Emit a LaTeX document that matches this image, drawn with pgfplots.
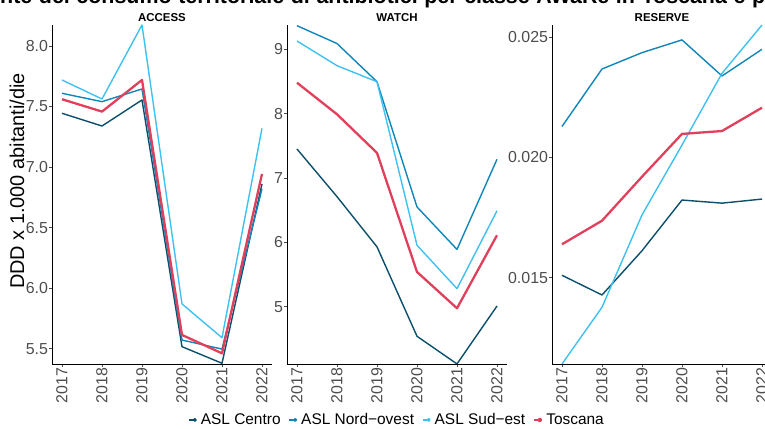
\documentclass[border=0pt]{standalone}
\usepackage{fontspec}
\setmainfont{Liberation Sans}
\usepackage{pgfplots}
\usepackage{pgfplotstable}
\pgfplotsset{compat=1.18}
\definecolor{cCentro}{HTML}{0B4F6C}
\definecolor{cNord}{HTML}{0E86B8}
\definecolor{cSud}{HTML}{3FC1F0}
\definecolor{cTosc}{HTML}{E0405C}
\definecolor{tickgrey}{HTML}{4D4D4D}

\pgfplotstableread{
year centro nord sud tosc
2017 7.444 7.609 7.719 7.560
2018 7.339 7.540 7.562 7.458
2019 7.554 7.645 8.173 7.719
2020 5.517 5.572 5.870 5.614
2021 5.380 5.497 5.591 5.462
2022 6.860 6.820 7.320 6.943
}\access
\pgfplotstableread{
year centro nord sud tosc
2017 7.45 9.367 9.129 8.481
2018 6.71 9.09 8.746 7.99
2019 5.93 8.496 8.496 7.39
2020 4.54 6.55 5.955 5.54
2021 4.11 5.89 5.28 4.975
2022 5.01 7.29 6.49 6.11
}\watch
\pgfplotstableread{
year centro nord sud tosc
2017 0.01510 0.02129 0.01141 0.01639
2018 0.01428 0.02368 0.01377 0.01737
2019 0.01612 0.02436 0.01761 0.01920
2020 0.01823 0.02489 0.02052 0.02098
2021 0.01810 0.02339 0.02350 0.02110
2022 0.01827 0.02450 0.02551 0.02207
}\reserve

\pgfplotsset{
  panel/.style={
    scale only axis, width=220bp, height=339bp,
    anchor=south west,
    axis x line*=bottom, axis y line*=left,
    axis line style={-, black, line width=0.8bp},
    xmin=2016.75, xmax=2022.25,
    xtick={2017,2018,2019,2020,2021,2022},
    x tick label style={rotate=90, anchor=east, /pgf/number format/1000 sep={}},
    tick align=outside, major tick length=2.8bp,
    tick style={tickgrey, line width=0.6bp},
    tick label style={font=\fontsize{16}{16}\selectfont, text=tickgrey, inner sep=1bp},
    /pgf/number format/assume math mode=true,
    every axis title shift=0pt,
    title style={font=\bfseries\fontsize{11.5}{11.5}\selectfont, at={(0.5,1)}, anchor=south, yshift=3bp, inner sep=0pt},
    every axis plot/.append style={line width=1.4bp, line join=round},
  },
}

\begin{document}
\begin{tikzpicture}
% ACCESS
\begin{axis}[panel, at={(52bp,65bp)}, title={ACCESS},
  ymin=5.374, ymax=8.173,
  ytick={5.5,6,6.5,7,7.5,8},
  yticklabel style={/pgf/number format/.cd, fixed, fixed zerofill, precision=1},
]
\addplot[cCentro] table[x=year,y=centro]{\access};
\addplot[cNord] table[x=year,y=nord]{\access};
\addplot[cSud] table[x=year,y=sud]{\access};
\addplot[cTosc, line width=2.3bp] table[x=year,y=tosc]{\access};
\end{axis}
% WATCH
\begin{axis}[panel, at={(287bp,65bp)}, title={WATCH},
  ymin=4.109, ymax=9.378,
  ytick={5,6,7,8,9},
  legend columns=4,
  legend style={at={(0.5,-0.165)}, anchor=center, draw=none, fill=none,
    font=\fontsize{15.5}{15.5}\selectfont, inner sep=0pt,
    /tikz/every odd column/.append style={column sep=2bp},
    /tikz/every even column/.append style={column sep=6bp}},
  legend image code/.code={\draw[#1, line width=1.2bp] (0bp,0bp) -- (7bp,0bp); \fill[#1] (6bp,0bp) circle (1.3bp);},
]
\addplot[cCentro] table[x=year,y=centro]{\watch};
\addlegendentry{ASL Centro}
\addplot[cNord] table[x=year,y=nord]{\watch};
\addlegendentry{ASL Nord−ovest}
\addplot[cSud] table[x=year,y=sud]{\watch};
\addlegendentry{ASL Sud−est}
\addplot[cTosc, line width=2.3bp] table[x=year,y=tosc]{\watch};
\addlegendentry{Toscana}
\end{axis}
% RESERVE
\begin{axis}[panel, at={(552bp,65bp)}, title={RESERVE},
  ymin=0.01141, ymax=0.02551,
  ytick={0.015,0.020,0.025},
  scaled y ticks=false,
  yticklabel style={/pgf/number format/.cd, fixed, fixed zerofill, precision=3},
]
\addplot[cCentro] table[x=year,y=centro]{\reserve};
\addplot[cNord] table[x=year,y=nord]{\reserve};
\addplot[cSud] table[x=year,y=sud]{\reserve};
\addplot[cTosc, line width=2.3bp] table[x=year,y=tosc]{\reserve};
\end{axis}
% y label
\node[rotate=90, anchor=base, font=\fontsize{20}{20}\selectfont, inner sep=0pt] at (24bp,248bp) {DDD x 1.000 abitanti/die};
% main title (cropped)
\node[anchor=base west, inner sep=0pt, font=\bfseries\fontsize{21.5}{21.5}\selectfont] at (0bp,425bp)
  {\hbox to 765bp{\llap{Andame}nte del consumo territoriale di antibiotici per classe AWaRe in Toscana e p\rlap{er ASL}}};
\pgfresetboundingbox
\path[use as bounding box] (0bp,0bp) rectangle (765bp,429bp);
\end{tikzpicture}
\end{document}
